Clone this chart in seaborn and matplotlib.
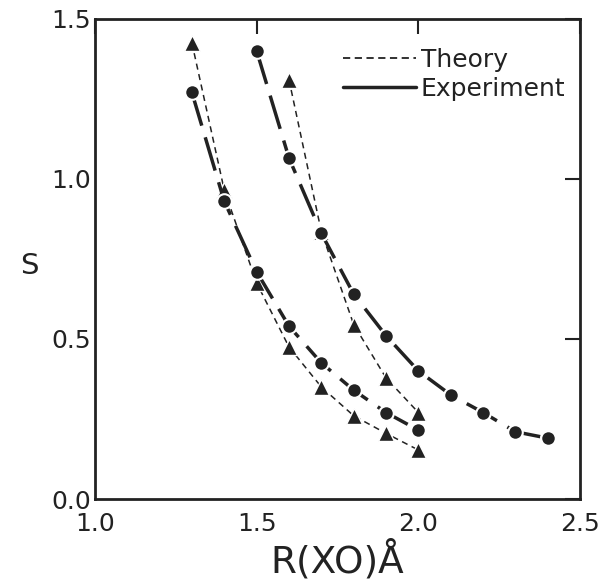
import matplotlib
matplotlib.use("Agg")
import matplotlib.pyplot as plt
import seaborn as sns
import pandas as pd
from matplotlib.lines import Line2D

# Data
exp1_x = [1.3, 1.4, 1.5, 1.6, 1.7, 1.8, 1.9, 2.0]
exp1_y = [1.27, 0.93, 0.71, 0.54, 0.425, 0.34, 0.27, 0.215]
th1_x = [1.3, 1.4, 1.5, 1.6, 1.7, 1.8, 1.9, 2.0]
th1_y = [1.425, 0.965, 0.675, 0.475, 0.35, 0.26, 0.205, 0.153]
exp2_x = [1.5, 1.6, 1.7, 1.8, 1.9, 2.0, 2.1, 2.2, 2.3, 2.4]
exp2_y = [1.40, 1.065, 0.83, 0.64, 0.51, 0.40, 0.325, 0.27, 0.21, 0.19]
th2_x = [1.6, 1.7, 1.8, 1.9, 2.0]
th2_y = [1.31, 0.835, 0.545, 0.378, 0.27]

x_ticks = [1.0, 1.5, 2.0, 2.5]
y_ticks = [0.0, 0.5, 1.0, 1.5]
x_label = "R(XO)Å"
y_label = "S"
legend_labels = ["Theory", "Experiment"]

sns.set_style("white")
plt.rcParams['font.family'] = ['DejaVu Sans']

ink = "#222222"
fig = plt.figure(figsize=(6.0, 5.85), dpi=100)
ax = fig.add_axes([0.158, 0.147, 0.809, 0.821])

for xs, ys in [(th1_x, th1_y), (th2_x, th2_y)]:
    df = pd.DataFrame({"x": xs, "y": ys})
    sns.lineplot(data=df, x="x", y="y", ax=ax, color=ink, linewidth=1.1,
                 linestyle=(0, (4, 3)), marker="^", markersize=12,
                 markeredgecolor="white", markeredgewidth=1.0, zorder=2)

for xs, ys in [(exp1_x, exp1_y), (exp2_x, exp2_y)]:
    df = pd.DataFrame({"x": xs, "y": ys})
    sns.lineplot(data=df, x="x", y="y", ax=ax, color=ink, linewidth=2.5,
                 linestyle=(0, (10, 3.5)), marker="o", markersize=10.5,
                 markeredgecolor="white", markeredgewidth=1.5, zorder=3)

ax.set_xlim(1.0, 2.5)
ax.set_ylim(0.0, 1.5)
ax.set_xticks(x_ticks)
ax.set_yticks(y_ticks)
ax.set_xticklabels([f"{v:.1f}" for v in x_ticks], fontsize=18, color=ink)
ax.set_yticklabels([f"{v:.1f}" for v in y_ticks], fontsize=18, color=ink)
ax.tick_params(direction="in", length=11, width=1.5, color=ink,
               top=True, right=True)
ax.tick_params(axis="y", pad=3)
ax.tick_params(axis="x", pad=9)
for s in ax.spines.values():
    s.set_linewidth(2.0)
    s.set_color(ink)

ax.set_xlabel(x_label, fontsize=27, color=ink)
ax.xaxis.set_label_coords(0.5, -0.085)
ax.xaxis.label.set_va("top")
ax.set_ylabel(y_label, fontsize=21, color=ink, rotation=0)
ax.yaxis.label.set_va("center")
ax.yaxis.set_label_coords(-0.135, 0.485)

handles = [Line2D([], [], color=ink, linewidth=1.3, linestyle=(0, (4, 2.5))),
           Line2D([], [], color=ink, linewidth=2.5, linestyle="-")]
ax.legend(handles, legend_labels, loc="upper right", bbox_to_anchor=(1.0, 0.97),
          frameon=False, fontsize=18, handlelength=2.9, handletextpad=0.2,
          labelspacing=0.2, labelcolor=ink, borderaxespad=0.2)

fig.savefig("out.png", dpi=100, facecolor="white")
